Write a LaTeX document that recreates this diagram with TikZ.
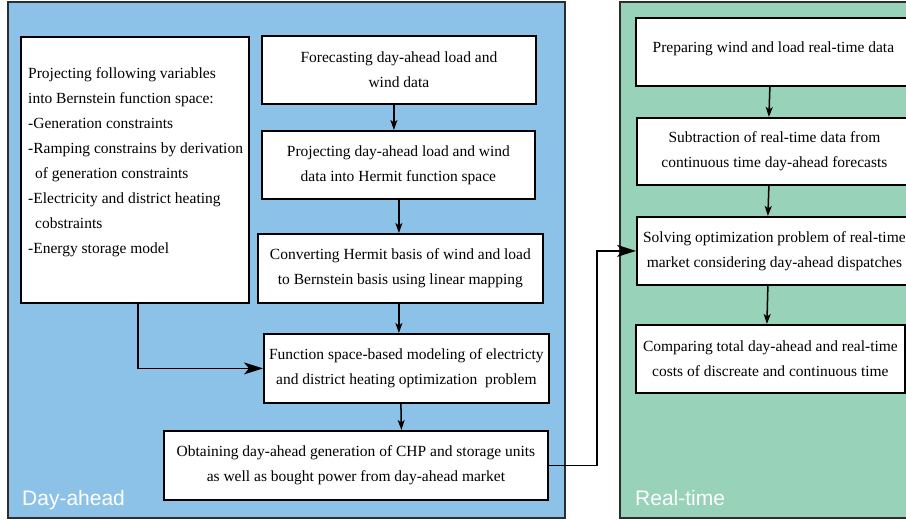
\documentclass[tikz,border=0pt]{standalone}
\usepackage{fontspec}
\setmainfont{Liberation Serif}
\setsansfont{Liberation Sans}
\usetikzlibrary{arrows.meta}
\definecolor{dayblue}{RGB}{141,194,232}
\definecolor{rtgreen}{RGB}{151,210,185}
\definecolor{panelline}{RGB}{45,45,45}
\tikzset{
  panel/.style={draw=panelline, line width=1.4pt},
  box/.style={draw=black, fill=white, line width=1.8pt, rectangle, anchor=north west,
    align=center, inner sep=2pt, font={\fontsize{15.5}{25}\selectfont}},
  arr/.style={draw=black, line width=1.5pt, -{Stealth[length=10pt,width=7pt,inset=2.5pt]}},
  bigarr/.style={draw=black, line width=1.5pt, -{Stealth[length=19pt,width=12pt,inset=5pt]}},
  plabel/.style={text=white, font={\sffamily\fontsize{21}{24}\selectfont}, inner sep=0pt, anchor=base west}
}
\begin{document}
\begin{tikzpicture}[x=1pt,y=-1pt]
\useasboundingbox (0,0) rectangle (906,520);
\clip (0,0) rectangle (906,520);
% panels
\fill[white] (0,0) rectangle (906,520);
\draw[panel, fill=dayblue] (8,2) rectangle (565,518);
\draw[panel, fill=rtgreen] (620,2) rectangle (930,518);
\node[plabel] (dal) at (22,505) {Day-ahead};
\node[plabel] (rtl) at (635,505) {Real-time};

% left box
\node[box, minimum width=228pt, minimum height=266pt] (lb) at (20,36) {};
\node[anchor=north west, align=left, inner sep=0pt, font={\fontsize{15.5}{25}\selectfont}] (lbt) at (28,67)
{Projecting following variables\\
into Bernstein function space:\\
-Generation constraints\\
-Ramping constrains by derivation\\
\hspace*{7pt}of generation constraints\\
-Electricity and district heating\\
\hspace*{7pt}cobstraints\\
-Energy storage model};

% day-ahead chain
\node[box, minimum width=274pt, minimum height=68pt] (b1) at (261,35)
{Forecasting day-ahead load and\\ wind data};
\node[box, minimum width=273pt, minimum height=68pt] (b2) at (261,130)
{Projecting day-ahead load and wind\\ data into Hermit function space};
\node[box, minimum width=285pt, minimum height=69pt] (b3) at (257,233)
{Converting Hermit basis of wind and load\\ to Bernstein basis using linear mapping};
\node[box, minimum width=285pt, minimum height=69pt] (b4) at (263,333)
{Function space-based modeling of electricty\\ and district heating optimization\ \ problem};
\node[box, minimum width=384pt, minimum height=69pt] (b5) at (163,430)
{Obtaining day-ahead generation of CHP and storage units\\ as well as bought power from day-ahead market};

% real-time chain
\node[box, minimum width=275pt, minimum height=68pt] (g1) at (635,17)
{\raisebox{10pt}{Preparing wind and load real-time data}};
\node[box, minimum width=275pt, minimum height=67pt] (g2) at (636,117)
{Subtraction of real-time data from\\ continuous time day-ahead forecasts};
\node[box, minimum width=275pt, minimum height=68pt] (g3) at (636,216)
{Solving optimization problem of real-time\\ market considering day-ahead dispatches};
\node[box, minimum width=269pt, minimum height=68pt] (g4) at (635,324)
{Comparing total day-ahead and real-time\\ costs of discreate and continuous time};

% connectors
\draw[arr] ([xshift=-5pt]b1.south) -- ([xshift=-4.5pt]b2.north);
\draw[arr] ([xshift=0.5pt]b2.south) -- ([xshift=-1.5pt]b3.north);
\draw[arr] ([xshift=-1.5pt]b3.south) -- ([xshift=-7.5pt]b4.north);
\draw[arr] ([xshift=-5.5pt]b4.south) -- ([xshift=45.5pt]b5.north);
\draw[bigarr] ([xshift=3pt]lb.south) |- (b4.west);
\draw[bigarr] (b5.east) -- ++(48,0) |- (g3.west);
\draw[arr] ([xshift=-3.5pt]g1.south) -- ([xshift=-5.5pt]g2.north);
\draw[arr] ([xshift=-5.5pt]g2.south) -- ([xshift=-6.5pt]g3.north);
\draw[arr] ([xshift=-6.5pt]g3.south) -- ([xshift=-3.5pt]g4.north);
\end{tikzpicture}
\end{document}
